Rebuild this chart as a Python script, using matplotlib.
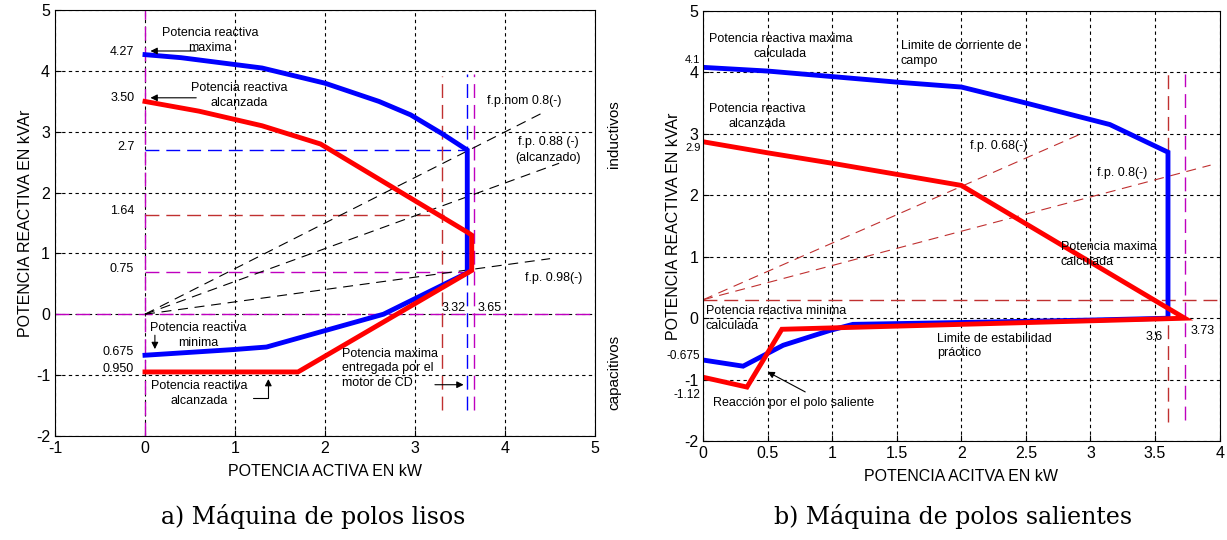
import numpy as np
import matplotlib
matplotlib.use("Agg")
import matplotlib.pyplot as plt

plt.rcParams['font.family'] = ['Liberation Sans', 'DejaVu Sans']
plt.rcParams['axes.unicode_minus'] = False

# ---- a) Maquina de polos lisos ----
a_blue_p = [0, 0.4, 1.3, 2.0, 2.6, 2.95, 3.3, 3.58, 3.58, 2.65, 1.35, 1.0, 0]
a_blue_q = [4.27, 4.22, 4.05, 3.8, 3.5, 3.28, 2.97, 2.7, 0.68, 0.0, -0.54, -0.58, -0.675]
a_red_p = [0, 0.6, 1.3, 1.95, 3.58, 3.63, 3.63, 1.7, 0]
a_red_q = [3.5, 3.34, 3.1, 2.8, 1.35, 1.3, 0.72, -0.95, -0.95]

# factor de potencia: pf, x final de la recta
a_pf = [0.8, 0.88, 0.98]
a_pf_xend = [4.45, 4.6, 4.5]
a_pf_labels = ['f.p.nom 0.8(-)', 'f.p. 0.88 (-)\n(alcanzado)', 'f.p. 0.98(-)']

a_q_marks = [4.27, 3.50, 2.7, 1.64, 0.7, -0.675, -0.950]
a_q_labels = ['4.27', '3.50', '2.7', '1.64', '0.75', '0.675', '0.950']
a_blue_lim = (3.58, 2.7)
a_red_lim = (3.32, 1.64)
a_mag_lim = (3.65, 0.7)

# ---- b) Maquina de polos salientes ----
b_blue_p = [0, 0.5, 1.0, 1.5, 2.0, 2.5, 3.15, 3.6, 3.6, 3.0, 2.0, 1.16, 0.98, 0.62, 0.31, 0]
b_blue_q = [4.08, 4.02, 3.93, 3.84, 3.76, 3.5, 3.15, 2.7, 0.0, -0.03, -0.07, -0.1, -0.2, -0.44, -0.78, -0.68]
b_red_p = [0, 0.5, 1.0, 2.0, 3.73, 0.61, 0.34, 0]
b_red_q = [2.87, 2.69, 2.52, 2.16, 0.0, -0.18, -1.12, -0.96]

b_offset = 0.3
b_pf_xend = [2.95, 3.93]
b_pf_yend = [3.02, 2.49]
b_pf_labels = ['f.p. 0.68(-)', 'f.p. 0.8(-)']
b_p_lims = [3.6, 3.73]

fig = plt.figure(figsize=(12.27, 5.4), dpi=100)
ax1 = fig.add_axes([0.0448, 0.193, 0.4402, 0.788])
ax2 = fig.add_axes([0.573, 0.183, 0.421, 0.797])

dash = (0, (10, 5))
grid_kw = dict(color='black', linestyle=(0, (3, 3)), linewidth=0.8)
txt = dict(fontsize=9)

for ax in (ax1, ax2):
    ax.grid(True, **grid_kw)
    ax.set_axisbelow(True)
    ax.tick_params(direction='in', labelsize=11.5, length=4)
    for s in ax.spines.values():
        s.set_linewidth(0.8)

# ---------- panel a ----------
ax1.set_xlim(-1, 5)
ax1.set_ylim(-2, 5)
ax1.set_xticks(range(-1, 6))
ax1.set_yticks(range(-2, 6))

ax1.axvline(0, color='m', ls=dash, lw=1)
ax1.axhline(0, color='m', ls=dash, lw=1)
ax1.plot([0, a_mag_lim[0] - 0.05], [a_mag_lim[1]] * 2, color='m', ls=dash, lw=1)
ax1.plot([a_mag_lim[0]] * 2, [-1.57, 3.95], color='m', ls=dash, lw=1)
ax1.plot([0, a_blue_lim[0]], [a_blue_lim[1]] * 2, color='b', ls=dash, lw=1)
ax1.plot([a_blue_lim[0]] * 2, [-1.57, 3.95], color='b', ls=dash, lw=1)
ax1.plot([0, a_red_lim[0]], [a_red_lim[1]] * 2, color='#c03030', ls=dash, lw=1)
ax1.plot([a_red_lim[0] - 0.02] * 2, [-1.57, 3.92], color='#c03030', ls=dash, lw=1)

for pf, xe in zip(a_pf, a_pf_xend):
    slope = np.tan(np.arccos(pf))
    ax1.plot([0, xe], [0, xe * slope], color='black', ls=(0, (9, 6)), lw=0.8)

ax1.plot(a_blue_p, a_blue_q, color='blue', lw=3.5, solid_joinstyle='miter')
ax1.plot(a_red_p, a_red_q, color='red', lw=3.5, solid_joinstyle='miter')

for q, lab in zip(a_q_marks, a_q_labels):
    ax1.text(-0.12, q + 0.05, lab, ha='right', va='center', **txt)

ax1.text(3.8, 3.5, a_pf_labels[0], ha='left', va='center', **txt)
ax1.text(4.48, 2.7, a_pf_labels[1], ha='center', va='center', linespacing=1.4, **txt)
ax1.text(4.22, 0.59, a_pf_labels[2], ha='left', va='center', **txt)
ax1.text(3.43, 0.11, '3.32', ha='center', va='center', **txt)
ax1.text(3.83, 0.11, '3.65', ha='center', va='center', **txt)

ax1.text(0.72, 4.5, 'Potencia reactiva\nmaxima', ha='center', va='center', linespacing=1.3, **txt)
ax1.annotate('', xy=(0.03, 4.33), xytext=(0.6, 4.33),
             arrowprops=dict(arrowstyle='-|>', color='black', lw=0.8))
ax1.text(1.05, 3.6, 'Potencia reactiva\nalcanzada', ha='center', va='center', linespacing=1.3, **txt)
ax1.annotate('', xy=(0.03, 3.56), xytext=(0.6, 3.56),
             arrowprops=dict(arrowstyle='-|>', color='black', lw=0.8))
ax1.text(0.59, -0.35, 'Potencia reactiva\nminima', ha='center', va='center', linespacing=1.3, **txt)
ax1.annotate('', xy=(0.11, -0.62), xytext=(0.11, -0.3),
             arrowprops=dict(arrowstyle='-|>', color='black', lw=0.8))
ax1.text(0.6, -1.3, 'Potencia reactiva\nalcanzada', ha='center', va='center', linespacing=1.3, **txt)
ax1.annotate('', xy=(1.37, -1.02), xytext=(1.17, -1.38),
             arrowprops=dict(arrowstyle='-|>', color='black', lw=0.8,
                             connectionstyle='angle,angleA=0,angleB=90,rad=0'))
ax1.text(2.19, -0.89, 'Potencia maxima\nentregada por el\nmotor de CD', ha='left', va='center',
         linespacing=1.3, **txt)
ax1.annotate('', xy=(3.57, -1.16), xytext=(3.19, -1.16),
             arrowprops=dict(arrowstyle='-|>', color='black', lw=0.8))

ax1.text(1.035, 0.71, 'inductivos', rotation=90, transform=ax1.transAxes,
         ha='center', va='center', fontsize=11)
ax1.text(1.035, 0.15, 'capacitivos', rotation=90, transform=ax1.transAxes,
         ha='center', va='center', fontsize=11)

ax1.set_xlabel('POTENCIA ACTIVA EN kW', fontsize=11.5, labelpad=6)
ax1.set_ylabel('POTENCIA REACTIVA EN kVAr', fontsize=11.5, labelpad=2)

# ---------- panel b ----------
ax2.set_xlim(0, 4)
ax2.set_ylim(-2, 5)
ax2.set_xticks(np.arange(0, 4.01, 0.5))
ax2.set_xticklabels(['0', '0.5', '1', '1.5', '2', '2.5', '3', '3.5', '4'])
ax2.set_yticks(range(-2, 6))

ax2.axhline(b_offset, color='#c03030', ls=dash, lw=1)
for xe, ye in zip(b_pf_xend, b_pf_yend):
    ax2.plot([0, xe], [b_offset, ye], color='#c03030', ls=(0, (9, 6)), lw=0.8)
ax2.plot([b_p_lims[0]] * 2, [-1.69, 4.03], color='#c03030', ls=dash, lw=1)
ax2.plot([b_p_lims[1]] * 2, [-1.66, 3.98], color='m', ls=dash, lw=1)

ax2.plot(b_blue_p, b_blue_q, color='blue', lw=3.5, solid_joinstyle='miter')
ax2.plot(b_red_p, b_red_q, color='red', lw=3.5, solid_joinstyle='miter')

ax2.text(-0.02, 4.2, '4.1', ha='right', va='center', fontsize=8)
ax2.text(-0.02, 2.77, '2.9', ha='right', va='center', fontsize=8)
ax2.text(-0.02, -0.62, '-0.675', ha='right', va='center', fontsize=8.5)
ax2.text(-0.02, -1.25, '-1.12', ha='right', va='center', fontsize=8.5)
ax2.text(3.49, -0.3, '3.6', ha='center', va='center', **txt)
ax2.text(3.87, -0.2, '3.73', ha='center', va='center', **txt)

ax2.text(0.6, 4.42, 'Potencia reactiva maxima\ncalculada', ha='center', va='center', linespacing=1.3, **txt)
ax2.text(1.53, 4.3, 'Limite de corriente de\ncampo', ha='left', va='center', linespacing=1.3, **txt)
ax2.text(0.42, 3.28, 'Potencia reactiva\nalcanzada', ha='center', va='center', linespacing=1.3, **txt)
ax2.text(2.07, 2.8, b_pf_labels[0], ha='left', va='center', **txt)
ax2.text(3.05, 2.36, b_pf_labels[1], ha='left', va='center', **txt)
ax2.text(2.77, 1.04, 'Potencia maxima\ncalculada', ha='left', va='center', linespacing=1.3, **txt)
ax2.text(0.02, 0.0, 'Potencia reactiva minima\ncalculada', ha='left', va='center', linespacing=1.3, **txt)
ax2.text(1.81, -0.45, 'Limite de estabilidad\npráctico', ha='left', va='center', linespacing=1.3, **txt)
ax2.text(0.08, -1.38, 'Reacción por el polo saliente', ha='left', va='center', **txt)
ax2.annotate('', xy=(0.48, -0.85), xytext=(0.81, -1.22),
             arrowprops=dict(arrowstyle='-|>', color='black', lw=0.8))

ax2.set_xlabel('POTENCIA ACITVA EN kW', fontsize=11.5, labelpad=6)
ax2.set_ylabel('POTENCIA REACTIVA EN kVAr', fontsize=11.5, labelpad=2)

cap_font = ['DejaVu Serif', 'Liberation Serif']
fig.text(0.255, 0.043, 'a) Máquina de polos lisos', ha='center', va='center',
         family=cap_font, fontsize=17)
fig.text(0.777, 0.043, 'b) Máquina de polos salientes', ha='center', va='center',
         family=cap_font, fontsize=17)

fig.savefig('out.png', dpi=100)
